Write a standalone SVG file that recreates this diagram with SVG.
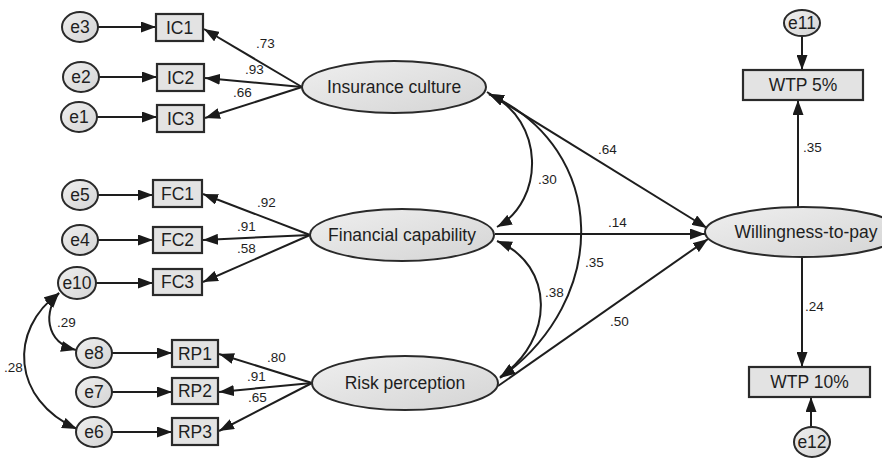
<svg xmlns="http://www.w3.org/2000/svg" width="882" height="458" viewBox="0 0 882 458">
<defs>
<linearGradient id="gfill" x1="0" y1="0" x2="1" y2="1">
<stop offset="0" stop-color="#efefef"/>
<stop offset="1" stop-color="#d4d4d4"/>
</linearGradient>
<marker id="ah" viewBox="0 0 15 11" refX="15" refY="5.5" markerWidth="15" markerHeight="11" markerUnits="userSpaceOnUse" orient="auto-start-reverse">
<path d="M0,0 L15,5.5 L0,11 z" fill="#1a1a1a"/>
</marker>
<style>
.ell{fill:url(#gfill);stroke:#2a2a2a;stroke-width:2}
.box{fill:#e3e3e3;stroke:#2a2a2a;stroke-width:2.2}
.lbl{font-family:"Liberation Sans",Arial,sans-serif;font-size:17.5px;fill:#1e1e1e;text-anchor:middle}
.num{font-family:"Liberation Sans",Arial,sans-serif;font-size:13.5px;fill:#1e1e1e}
.con{fill:none;stroke:#1e1e1e;stroke-width:2}
.one{marker-end:url(#ah)}
.two{marker-start:url(#ah);marker-end:url(#ah)}
</style>
</defs>
<rect width="882" height="458" fill="#ffffff"/>

<g id="connectors">
<path class="con one" d="M98 27 L156 27"/>
<path class="con one" d="M99 77 L157 77"/>
<path class="con one" d="M97 117 L157 117"/>
<path class="con one" d="M98 195 L153 195"/>
<path class="con one" d="M98 240 L153 240"/>
<path class="con one" d="M96 283 L153 283"/>
<path class="con one" d="M112 353 L172 353"/>
<path class="con one" d="M112 392 L172 392"/>
<path class="con one" d="M112 432 L172 432"/>
<path class="con one" d="M302 87 L204 29"/>
<path class="con one" d="M302 87 L205 78"/>
<path class="con one" d="M302 87 L205 118"/>
<path class="con one" d="M310 235 L203 194"/>
<path class="con one" d="M310 235 L203 240"/>
<path class="con one" d="M310 235 L203 282"/>
<path class="con one" d="M312 383 L219 354"/>
<path class="con one" d="M312 383 L219 392"/>
<path class="con one" d="M312 383 L219 431"/>
<path class="con one" d="M487 92 L707 228"/>
<path class="con one" d="M495 234 L705 234"/>
<path class="con one" d="M498 386 L708 239"/>
<path class="con two" d="M489 94 C545 120 545 200 497 227"/>
<path class="con two" d="M489 94 C610 150 610 300 500 378"/>
<path class="con two" d="M497 241 C555 265 555 340 500 377"/>
<path class="con two" d="M59 293 C44 310 44 342 76 350"/>
<path class="con two" d="M59 293 C8 330 12 400 77 429"/>
<path class="con one" d="M798 207 L798 100"/>
<path class="con one" d="M802 257 L802 367"/>
<path class="con one" d="M802 36 L802 70"/>
<path class="con one" d="M811 427 L811 397"/>
</g>

<g id="coefficients">
<text class="num" x="256" y="48">.73</text>
<text class="num" x="245" y="74">.93</text>
<text class="num" x="233" y="97">.66</text>
<text class="num" x="257" y="207">.92</text>
<text class="num" x="237" y="231">.91</text>
<text class="num" x="237" y="253">.58</text>
<text class="num" x="267" y="362">.80</text>
<text class="num" x="247" y="381">.91</text>
<text class="num" x="248" y="402">.65</text>
<text class="num" x="57" y="327">.29</text>
<text class="num" x="4" y="372">.28</text>
<text class="num" x="598" y="154">.64</text>
<text class="num" x="538" y="184">.30</text>
<text class="num" x="608" y="227">.14</text>
<text class="num" x="585" y="267">.35</text>
<text class="num" x="545" y="297">.38</text>
<text class="num" x="610" y="326">.50</text>
<text class="num" x="803" y="152">.35</text>
<text class="num" x="805" y="311">.24</text>
</g>

<g id="e3"><ellipse class="ell" cx="80" cy="27" rx="18" ry="15"/><text class="lbl" x="80" y="33">e3</text></g>
<g id="e2"><ellipse class="ell" cx="81" cy="77" rx="18" ry="15"/><text class="lbl" x="81" y="83">e2</text></g>
<g id="e1"><ellipse class="ell" cx="79" cy="117" rx="18" ry="15"/><text class="lbl" x="79" y="123">e1</text></g>
<g id="e5"><ellipse class="ell" cx="80" cy="195" rx="18" ry="15"/><text class="lbl" x="80" y="201">e5</text></g>
<g id="e4"><ellipse class="ell" cx="80" cy="240" rx="18" ry="15"/><text class="lbl" x="80" y="246">e4</text></g>
<g id="e10"><ellipse class="ell" cx="77" cy="283" rx="19" ry="16"/><text class="lbl" x="77" y="289">e10</text></g>
<g id="e8"><ellipse class="ell" cx="94" cy="353" rx="18" ry="15"/><text class="lbl" x="94" y="359">e8</text></g>
<g id="e7"><ellipse class="ell" cx="94" cy="392" rx="18" ry="15"/><text class="lbl" x="94" y="398">e7</text></g>
<g id="e6"><ellipse class="ell" cx="94" cy="432" rx="18" ry="15"/><text class="lbl" x="94" y="438">e6</text></g>

<g id="IC1"><rect class="box" x="156" y="14" width="47" height="27"/><text class="lbl" x="179.5" y="33.5">IC1</text></g>
<g id="IC2"><rect class="box" x="157" y="64" width="47" height="27"/><text class="lbl" x="180.5" y="83.5">IC2</text></g>
<g id="IC3"><rect class="box" x="157" y="105" width="47" height="27"/><text class="lbl" x="180.5" y="124.5">IC3</text></g>
<g id="FC1"><rect class="box" x="153" y="180" width="49" height="27"/><text class="lbl" x="177.5" y="199.5">FC1</text></g>
<g id="FC2"><rect class="box" x="153" y="227" width="49" height="26"/><text class="lbl" x="177.5" y="246">FC2</text></g>
<g id="FC3"><rect class="box" x="153" y="269" width="49" height="26"/><text class="lbl" x="177.5" y="288">FC3</text></g>
<g id="RP1"><rect class="box" x="172" y="340" width="46" height="27"/><text class="lbl" x="195" y="359.5">RP1</text></g>
<g id="RP2"><rect class="box" x="172" y="378" width="46" height="26"/><text class="lbl" x="195" y="397">RP2</text></g>
<g id="RP3"><rect class="box" x="172" y="418" width="46" height="27"/><text class="lbl" x="195" y="437.5">RP3</text></g>

<g id="insurance-culture"><ellipse class="ell" cx="394" cy="87" rx="92" ry="26"/><text class="lbl" x="394" y="93">Insurance culture</text></g>
<g id="financial-capability"><ellipse class="ell" cx="402" cy="235" rx="92" ry="26"/><text class="lbl" x="402" y="241">Financial capability</text></g>
<g id="risk-perception"><ellipse class="ell" cx="405" cy="383" rx="93" ry="27"/><text class="lbl" x="405" y="389">Risk perception</text></g>
<g id="willingness-to-pay"><ellipse class="ell" cx="803" cy="232" rx="98" ry="25"/><text class="lbl" x="806" y="238">Willingness-to-pay</text></g>

<g id="WTP5"><rect class="box" x="743" y="70" width="120" height="30"/><text class="lbl" x="803" y="91">WTP 5%</text></g>
<g id="WTP10"><rect class="box" x="749" y="367" width="121" height="30"/><text class="lbl" x="809.5" y="388">WTP 10%</text></g>
<g id="e11"><ellipse class="ell" cx="802" cy="23" rx="18" ry="13"/><text class="lbl" x="802" y="29">e11</text></g>
<g id="e12"><ellipse class="ell" cx="812" cy="442" rx="18" ry="15"/><text class="lbl" x="812" y="448">e12</text></g>
</svg>
